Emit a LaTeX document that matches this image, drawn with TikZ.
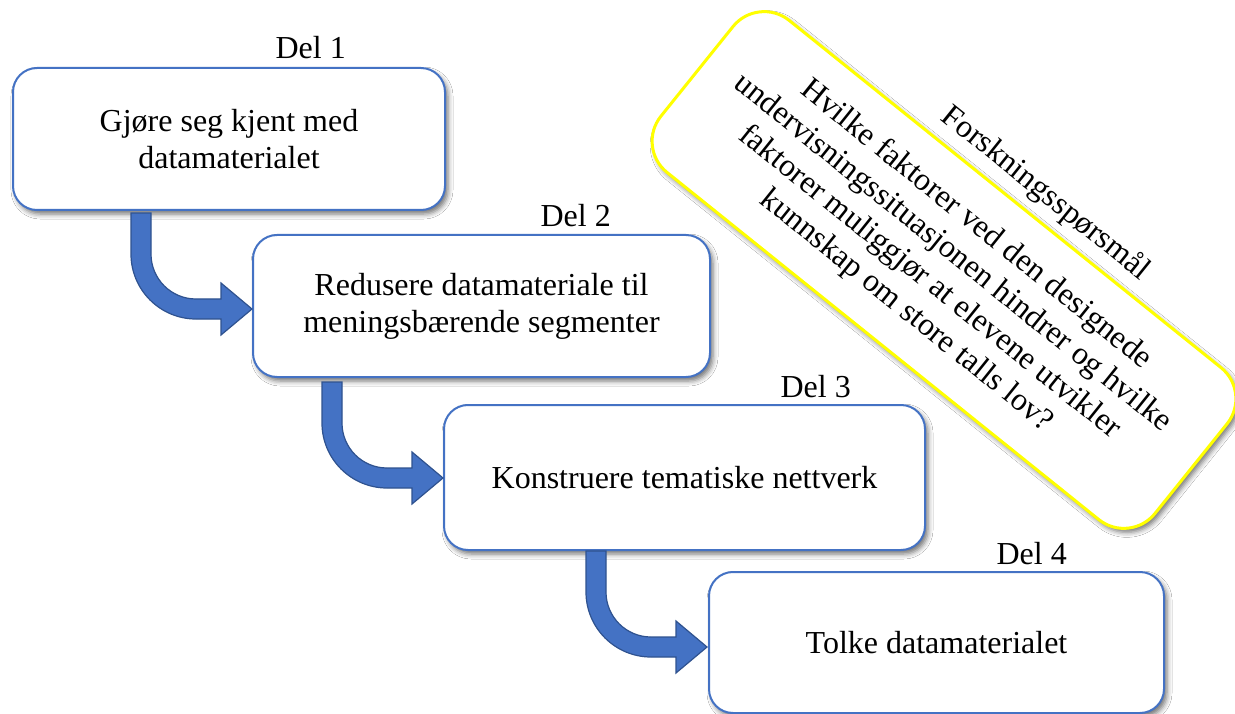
\documentclass[tikz,border=0pt]{standalone}
\usepackage{fontspec}
\setmainfont{Liberation Serif}
\usetikzlibrary{shadows.blur,calc}
\definecolor{boxblue}{HTML}{4472C4}
\definecolor{arrowedge}{HTML}{2F528F}
\definecolor{ylw}{HTML}{FFFF00}
\tikzset{
  myshadow/.style={blur shadow={shadow xshift=3pt, shadow yshift=-4pt, shadow blur radius=5pt, shadow opacity=55}},
  stepbox/.style={draw=boxblue, line width=2pt, fill=white, rounded corners=24pt,
    align=center, font=\fontsize{32}{37}\selectfont, inner sep=0pt, myshadow},
  dellabel/.style={anchor=base east, font=\fontsize{32}{37}\selectfont, inner sep=0pt},
  bentarrow/.style={fill=boxblue, draw=arrowedge, line width=1.2pt, line join=miter},
  bent/.pic={\path[bentarrow] (-10,0) -- ++(0,-41)
      arc[start angle=180,end angle=270,radius=65pt] -- ++(25,0) -- ++(0,-16)
      -- ++(31,26) -- ++(-31,26) -- ++(0,-16) -- ++(-25,0)
      arc[start angle=270,end angle=180,radius=45pt] -- (10,0) -- cycle;},
  qbox/.style={draw=ylw, line width=3pt, fill=white, rounded corners=40pt, myshadow},
  qtext/.style={align=center, font=\fontsize{32}{37}\selectfont, inner sep=0pt}
}
\begin{document}
\begin{tikzpicture}[x=1pt,y=1pt]
\useasboundingbox (0,0) rectangle (1235,-714);
\fill[white] (0,0) rectangle (1235,-714);

\node[stepbox, minimum width=432pt, minimum height=142pt] (b1) at (229,-139) {Gjøre seg kjent med\\datamaterialet};
\node[stepbox, minimum width=457pt, minimum height=142pt] (b2) at (481.5,-306) {Redusere datamateriale til\\meningsbærende segmenter};
\node[stepbox, minimum width=481pt, minimum height=145pt] (b3) at (684.5,-477.5) {Konstruere tematiske nettverk};
\node[stepbox, minimum width=455pt, minimum height=141pt] (b4) at (936.5,-642.5) {Tolke datamaterialet};

\node[dellabel] (d1) at ($(b1.north east)+(-100,8)$) {Del 1};
\node[dellabel] (d2) at ($(b2.north east)+(-100,7)$) {Del 2};
\node[dellabel] (d3) at ($(b3.north east)+(-75,7)$) {Del 3};
\node[dellabel] (d4) at ($(b4.north east)+(-98,7)$) {Del 4};

\coordinate (a1) at ($(b1.south west)+(129,-2)$);
\coordinate (a2) at ($(b2.south west)+(80,-4)$);
\coordinate (a3) at ($(b3.south west)+(153,0)$);
\pic at (a1) {bent};
\pic at (a2) {bent};
\pic at (a3) {bent};

\node[qbox, rotate=-38.8, minimum width=634pt, minimum height=195pt] (q) at (944,-270) {};
\node[qtext, rotate=-38.8] (qt) at ($(q.center)+(-3,2)$) {Hvilke faktorer ved den designede\\undervisningssituasjonen hindrer og hvilke\\faktorer muliggjør at elevene utvikler\\kunnskap om store talls lov?};
\begin{scope}[shift={(q.center)}, rotate=-38.8]
  \node[qtext, rotate=-38.8] (fq) at (31,123) {Forskningsspørsmål};
\end{scope}
\end{tikzpicture}
\end{document}
